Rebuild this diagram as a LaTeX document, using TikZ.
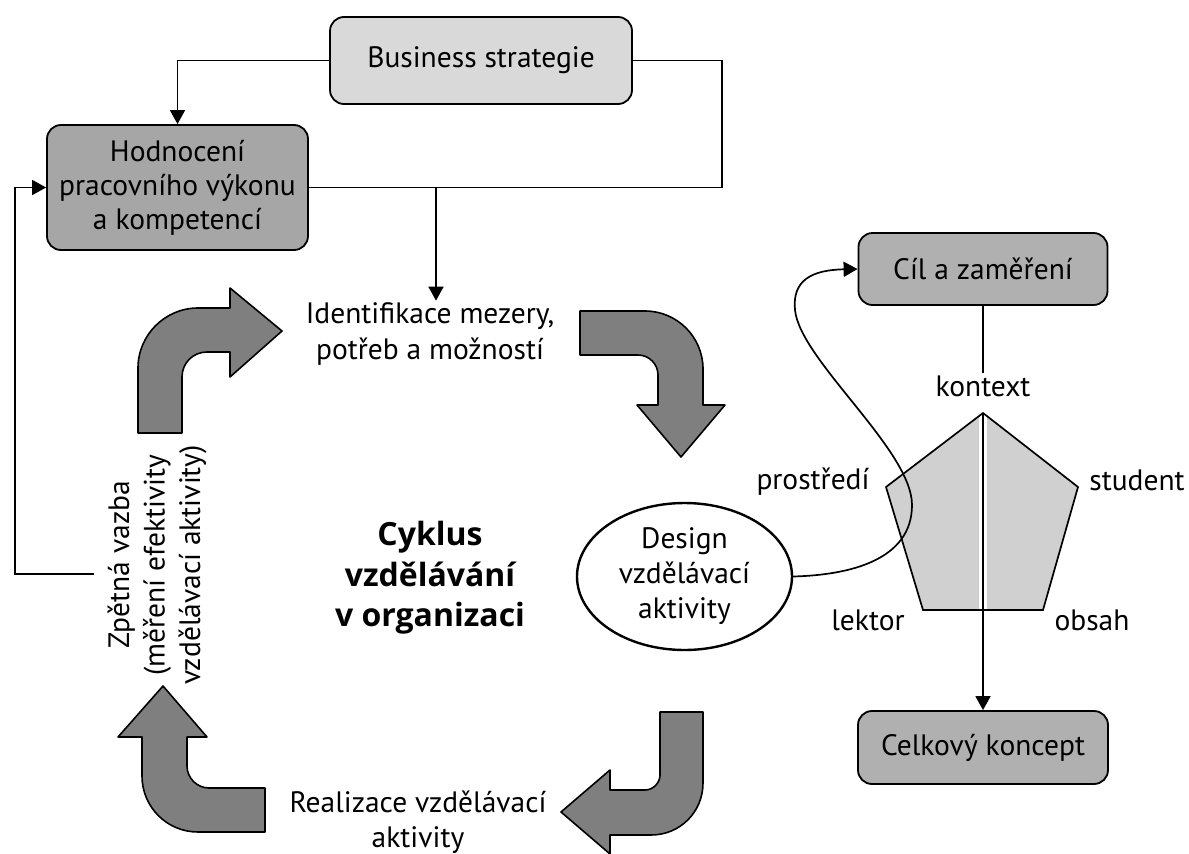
\documentclass[tikz,border=0pt]{standalone}
\usepackage{fontspec}
\setmainfont{PT Sans}
\newfontfamily\cykfont{Open Sans}
\usetikzlibrary{arrows.meta,shapes.geometric,calc}
\definecolor{boxlight}{HTML}{D9D9D9}
\definecolor{boxmid}{HTML}{A6A6A6}
\definecolor{boxmidb}{HTML}{B0B0B0}
\definecolor{bigarrow}{HTML}{7F7F7F}
\definecolor{pentfill}{HTML}{D0D0D0}
\tikzset{
  box/.style={draw=black, line width=1.8pt, rounded corners=14pt, align=center,
    font=\fontsize{29.5}{34}\selectfont, inner sep=0pt},
  txt/.style={align=center, font=\fontsize{29.5}{35.5}\selectfont, inner sep=2pt},
  conn/.style={line width=1.7pt},
  arr/.style={conn, -{Triangle[length=14pt,width=15pt]}},
  bigarr/.style={fill=bigarrow, draw=black, line width=1.6pt, line join=round},
}
\begin{document}
\begin{tikzpicture}[x=1pt,y=-1pt]
\useasboundingbox (0,0) rectangle (1189,854);

% boxes
\node[box, fill=boxlight, minimum width=302pt, minimum height=87pt] (bs) at (481,60.5) {Business strategie};
\node[box, fill=boxmid, minimum width=261pt, minimum height=125pt] (hod) at (177.5,187.5) {Hodnocení\\pracovního výkonu\\a kompetencí};
\node[box, fill=boxmidb, minimum width=249pt, minimum height=72pt] (cil) at (983,269) {Cíl a zaměření};
\node[box, fill=boxmidb, minimum width=250pt, minimum height=73pt] (cel) at (983,747.5) {Celkový koncept};

% texts
\node[txt] (ident) at (430,334) {Identifikace mezery,\\potřeb a možností};
\node[txt] (real) at (418,822) {Realizace vzdělávací\\aktivity};
\node[txt, rotate=90] (zv) at (157,565) {Zpětná vazba\\(měření efektivity\\vzdělávací aktivity)};
\node[align=center, font=\cykfont\bfseries\fontsize{32}{40.5}\selectfont] (cyk) at (430,578) {Cyklus\\vzdělávání\\v organizaci};
\node[draw=black, line width=2.4pt, ellipse, minimum width=215pt, minimum height=147pt, inner sep=0pt, align=center, font=\fontsize{29.5}{35}\selectfont] (des) at (684.5,576.5) {Design\\vzdělávací\\aktivity};

% pentagon
\coordinate (p1) at (983,413);
\coordinate (p2) at (1078,487);
\coordinate (p3) at (1043,610);
\coordinate (p4) at (923,610);
\coordinate (p5) at (886,487);
\fill[pentfill] (p1) -- (p2) -- (p3) -- (p4) -- (p5) -- cycle;
\draw[white, line width=8pt] (p1) -- (983,610);
\draw[conn, line join=miter] (p1) -- (p2) -- (p3) -- (p4) -- (p5) -- cycle;

\node[txt] (kon) at (983,386) {kontext};
\node[txt] (pro) at (813,482) {prostředí};
\node[txt] (stu) at (1137,480) {student};
\node[txt] (lek) at (868,620) {lektor};
\node[txt] (obs) at (1092,620) {obsah};

% connectors
\draw[arr] (bs.west) -| (hod.north);
\coordinate (rc) at (722,187.5);
\draw[conn] (bs.east) -| (rc) -- (hod.east);
\coordinate (j) at (436,187.5);
\draw[arr] (j) -- (j |- ident.north);
\coordinate (fb) at (94,574);
\draw[arr] (fb) -- (15,574) |- (hod.west);
\draw[conn] (cil.south) -- (kon.north);
\draw[arr] (p1) -- (cel.north);
\draw[arr] (des.east) .. controls (850,575) and (912,560) .. (912,505)
  .. controls (912,450) and (800,360) .. (795,310)
  .. controls (792,280) and (812,270) .. (cil.west);

% big curved arrows
\draw[bigarr] (138,433) -- (138,368) .. controls (138,335) and (165,308) .. (198,308)
  -- (230,308) -- (230,288) -- (282,331) -- (230,377) -- (230,352) -- (207,352)
  .. controls (193,352) and (182,363) .. (182,377) -- (182,433) -- cycle;
\draw[bigarr] (580,311) -- (645,311) .. controls (677,311) and (703,337) .. (703,369)
  -- (703,405) -- (725,405) -- (681,457) -- (637,405) -- (658,405) -- (658,375)
  .. controls (658,364) and (649,355) .. (638,355) -- (580,355) -- cycle;
\draw[bigarr] (660,712) -- (703,712) -- (703,783) .. controls (703,812) and (680,835) .. (651,835)
  -- (610,835) -- (610,854) -- (561,812) -- (610,770) -- (610,790) -- (645,790)
  .. controls (653,790) and (660,783) .. (660,775) -- cycle;
\draw[bigarr] (265,788) -- (209,788) .. controls (197,788) and (187,778) .. (187,766)
  -- (187,737) -- (207,737) -- (163,686) -- (118,737) -- (142,737) -- (142,776)
  .. controls (142,807) and (167,832) .. (198,832) -- (265,832) -- cycle;
\end{tikzpicture}
\end{document}
